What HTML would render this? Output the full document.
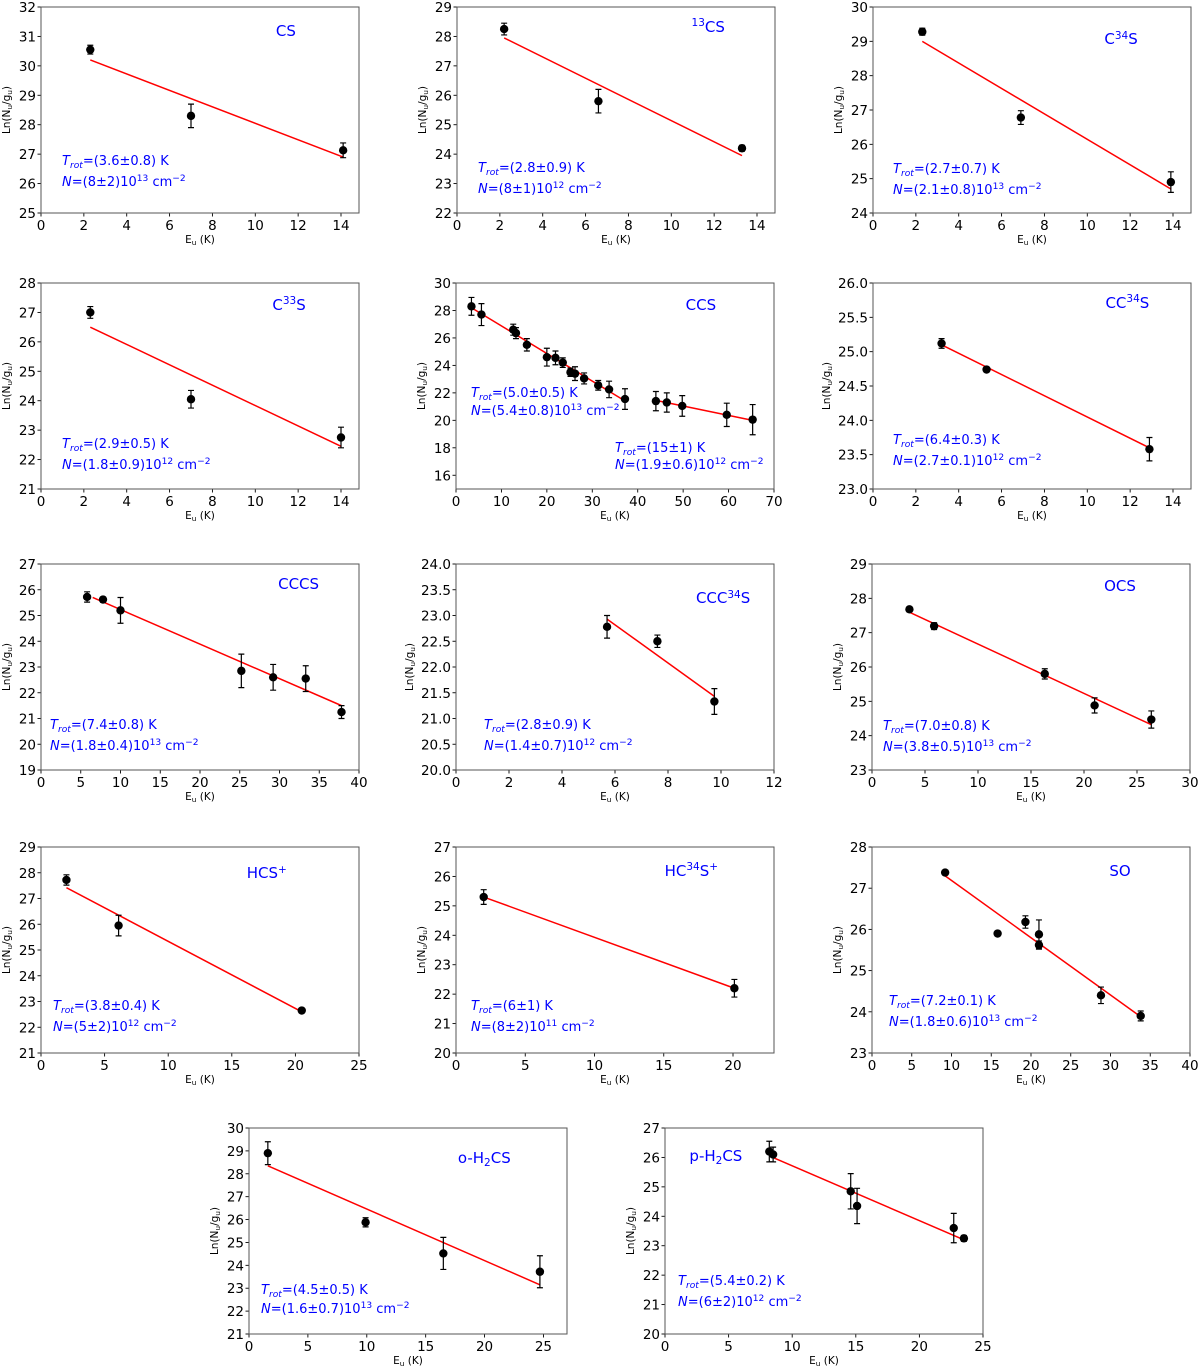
<!DOCTYPE html>
<html><head><meta charset="utf-8">
<style>
html,body{margin:0;padding:0;background:#fff;}
#root{position:relative;width:1200px;height:1372px;overflow:hidden;font-family:"DejaVu Sans","Liberation Sans",sans-serif;}
svg{position:absolute;left:0;top:0;}
.t{position:absolute;color:#0000ff;white-space:nowrap;font-size:15px;line-height:1;}
.a{position:absolute;color:#0000ff;white-space:nowrap;font-size:13px;line-height:1;}
.yl{position:absolute;font-size:10.5px;white-space:nowrap;transform:translate(-50%,-50%) rotate(-90deg);}
.xl{position:absolute;font-size:10.5px;white-space:nowrap;transform:translateX(-50%);}
sup{font-size:70%;vertical-align:0;position:relative;top:-0.5em;}
sub{font-size:70%;vertical-align:0;position:relative;top:0.3em;}
</style></head>
<body>
<div id="root">
<svg id="plot" width="1200" height="1372"></svg>
</div>
<script>
// ---- data arrays ----
const csE=[2.3,7.0,14.1], csLn=[30.55,28.3,27.13], csErr=[0.15,0.4,0.25], csFitE=[2.3,14.1], csFitLn=[30.2,26.9];
const c13E=[2.2,6.6,13.3], c13Ln=[28.25,25.8,24.2], c13Err=[0.2,0.4,0.1], c13FitE=[2.2,13.3], c13FitLn=[27.95,23.95];
const c34E=[2.3,6.9,13.9], c34Ln=[29.28,26.78,24.9], c34Err=[0.1,0.2,0.3], c34FitE=[2.3,13.9], c34FitLn=[29.0,24.7];
const c33E=[2.3,7.0,14.0], c33Ln=[27.0,24.05,22.75], c33Err=[0.2,0.3,0.35], c33FitE=[2.3,14.0], c33FitLn=[26.5,22.45];
const ccsE=[3.4,5.6,12.6,13.2,15.6,20.0,21.9,23.5,25.2,26.2,28.2,31.3,33.7,37.2,44.0,46.4,49.8,59.6,65.3];
const ccsLn=[28.3,27.7,26.6,26.35,25.5,24.6,24.55,24.2,23.5,23.4,23.05,22.55,22.25,21.55,21.4,21.3,21.05,20.4,20.05];
const ccsErr=[0.65,0.8,0.4,0.4,0.45,0.65,0.5,0.35,0.3,0.5,0.4,0.35,0.6,0.75,0.7,0.7,0.75,0.85,1.1];
const ccsFitE=[3.4,37.0], ccsFitLn=[28.2,21.45], ccsFit2E=[44.0,65.3], ccsFit2Ln=[21.45,20.0];
const cc34E=[3.2,5.3,12.9], cc34Ln=[25.12,24.74,23.58], cc34Err=[0.07,0.03,0.17], cc34FitE=[3.2,12.9], cc34FitLn=[25.1,23.6];
const cccsE=[5.8,7.8,10.0,25.2,29.2,33.3,37.8], cccsLn=[25.72,25.62,25.2,22.85,22.6,22.55,21.25], cccsErr=[0.2,0.1,0.5,0.65,0.5,0.5,0.25], cccsFitE=[6.5,37.8], cccsFitLn=[25.7,21.5];
const ccc34E=[5.7,7.6,9.75], ccc34Ln=[22.78,22.5,21.33], ccc34Err=[0.22,0.12,0.25], ccc34FitE=[5.7,9.75], ccc34FitLn=[22.93,21.43];
const ocsE=[3.53,5.86,16.3,21.0,26.35], ocsLn=[27.68,27.19,25.8,24.88,24.47], ocsErr=[0.07,0.1,0.15,0.22,0.25], ocsFitE=[3.5,26.35], ocsFitLn=[27.6,24.32];
const hcsE=[2.0,6.1,20.5], hcsLn=[27.72,25.95,22.65], hcsErr=[0.2,0.4,0.05], hcsFitE=[2.0,20.5], hcsFitLn=[27.42,22.6];
const hc34E=[2.0,20.1], hc34Ln=[25.3,22.2], hc34Err=[0.25,0.3], hc34FitE=[2.0,20.1], hc34FitLn=[25.3,22.2];
const soE=[9.2,15.8,19.3,21.0,21.0,28.8,33.8], soLn=[27.38,25.9,26.18,25.88,25.62,24.4,23.9], soErr=[0.03,0.0,0.15,0.35,0.1,0.2,0.12], soFitE=[9.2,33.8], soFitLn=[27.3,23.88];
const oh2E=[1.6,9.9,16.5,24.7], oh2Ln=[28.9,25.88,24.52,23.72], oh2Err=[0.5,0.2,0.7,0.7], oh2FitE=[1.6,24.7], oh2FitLn=[28.35,23.15];
const ph2E=[8.2,8.5,14.6,15.1,22.7,23.5], ph2Ln=[26.2,26.1,24.85,24.35,23.6,23.25], ph2Err=[0.35,0.25,0.6,0.6,0.5,0.1], ph2FitE=[8.2,23.5], ph2FitLn=[26.05,23.2];

// ---- tick arrays ----
const xt14=[0,2,4,6,8,10,12,14], xt70=[0,10,20,30,40,50,60,70], xt40=[0,5,10,15,20,25,30,35,40], xt12=[0,2,4,6,8,10,12], xt30=[0,5,10,15,20,25,30], xt25=[0,5,10,15,20,25], xt20=[0,5,10,15,20];

const panels=[
 {id:'cs',L:41,T:7,xr:[0,14.84],yr:[25,32],xt:xt14,yt:[25,26,27,28,29,30,31,32],d:[csE,csLn,csErr],f:[[csFitE,csFitLn]],
  title:'CS',tp:[0.77,0.12],ann:[[62,163,'(3.6±0.8)','(8±2)10<sup>13</sup>']]},
 {id:'13cs',L:457,T:7,xr:[0,14.84],yr:[22,29],xt:xt14,yt:[22,23,24,25,26,27,28,29],d:[c13E,c13Ln,c13Err],f:[[c13FitE,c13FitLn]],
  title:'<sup>13</sup>CS',tp:[0.79,0.1],ann:[[478,170,'(2.8±0.9)','(8±1)10<sup>12</sup>']]},
 {id:'c34s',L:873,T:7,xr:[0,14.84],yr:[24,30],xt:xt14,yt:[24,25,26,27,28,29,30],d:[c34E,c34Ln,c34Err],f:[[c34FitE,c34FitLn]],
  title:'C<sup>34</sup>S',tp:[0.78,0.16],ann:[[893,171,'(2.7±0.7)','(2.1±0.8)10<sup>13</sup>']]},
 {id:'c33s',L:41,T:283,xr:[0,14.84],yr:[21,28],xt:xt14,yt:[21,22,23,24,25,26,27,28],d:[c33E,c33Ln,c33Err],f:[[c33FitE,c33FitLn]],
  title:'C<sup>33</sup>S',tp:[0.78,0.11],ann:[[62,446,'(2.9±0.5)','(1.8±0.9)10<sup>12</sup>']]},
 {id:'ccs',L:456,T:283,xr:[0,70],yr:[15,30],xt:xt70,yt:[16,18,20,22,24,26,28,30],d:[ccsE,ccsLn,ccsErr],f:[[ccsFitE,ccsFitLn],[ccsFit2E,ccsFit2Ln]],
  title:'CCS',tp:[0.77,0.11],ann:[[471,395,'(5.0±0.5)','(5.4±0.8)10<sup>13</sup>',18],[615,450,'(15±1)','(1.9±0.6)10<sup>12</sup>',17]]},
 {id:'cc34s',L:873,T:283,xr:[0,14.84],yr:[23,26],xt:xt14,yt:[23,23.5,24,24.5,25,25.5,26],dec:1,d:[cc34E,cc34Ln,cc34Err],f:[[cc34FitE,cc34FitLn]],
  title:'CC<sup>34</sup>S',tp:[0.8,0.1],ann:[[893,442,'(6.4±0.3)','(2.7±0.1)10<sup>12</sup>']]},
 {id:'cccs',L:41,T:564,xr:[0,40],yr:[19,27],xt:xt40,yt:[19,20,21,22,23,24,25,26,27],d:[cccsE,cccsLn,cccsErr],f:[[cccsFitE,cccsFitLn]],
  title:'CCCS',tp:[0.81,0.1],ann:[[50,727,'(7.4±0.8)','(1.8±0.4)10<sup>13</sup>']]},
 {id:'ccc34s',L:456,T:564,xr:[0,12],yr:[20,24],xt:xt12,yt:[20,20.5,21,21.5,22,22.5,23,23.5,24],dec:1,d:[ccc34E,ccc34Ln,ccc34Err],f:[[ccc34FitE,ccc34FitLn]],
  title:'CCC<sup>34</sup>S',tp:[0.84,0.17],ann:[[484,727,'(2.8±0.9)','(1.4±0.7)10<sup>12</sup>']]},
 {id:'ocs',L:872,T:564,xr:[0,30],yr:[23,29],xt:xt30,yt:[23,24,25,26,27,28,29],d:[ocsE,ocsLn,ocsErr],f:[[ocsFitE,ocsFitLn]],
  title:'OCS',tp:[0.78,0.11],ann:[[883,728,'(7.0±0.8)','(3.8±0.5)10<sup>13</sup>']]},
 {id:'hcs',L:41,T:847,xr:[0,25],yr:[21,29],xt:xt25,yt:[21,22,23,24,25,26,27,28,29],d:[hcsE,hcsLn,hcsErr],f:[[hcsFitE,hcsFitLn]],
  title:'HCS<sup>+</sup>',tp:[0.71,0.13],ann:[[53,1008,'(3.8±0.4)','(5±2)10<sup>12</sup>']]},
 {id:'hc34s',L:456,T:847,xr:[0,22.96],yr:[20,27],xt:xt20,yt:[20,21,22,23,24,25,26,27],d:[hc34E,hc34Ln,hc34Err],f:[[hc34FitE,hc34FitLn]],
  title:'HC<sup>34</sup>S<sup>+</sup>',tp:[0.74,0.12],ann:[[471,1008,'(6±1)','(8±2)10<sup>11</sup>']]},
 {id:'so',L:872,T:847,xr:[0,40],yr:[23,28],xt:xt40,yt:[23,24,25,26,27,28],d:[soE,soLn,soErr],f:[[soFitE,soFitLn]],
  title:'SO',tp:[0.78,0.12],ann:[[889,1003,'(7.2±0.1)','(1.8±0.6)10<sup>13</sup>']]},
 {id:'oh2cs',L:249,T:1128,xr:[0,27],yr:[21,30],xt:xt25,yt:[21,22,23,24,25,26,27,28,29,30],d:[oh2E,oh2Ln,oh2Err],f:[[oh2FitE,oh2FitLn]],
  title:'o-H<sub>2</sub>CS',tp:[0.74,0.15],ann:[[261,1292,'(4.5±0.5)','(1.6±0.7)10<sup>13</sup>',19]]},
 {id:'ph2cs',L:665,T:1128,xr:[0,25],yr:[20,27],xt:xt25,yt:[20,21,22,23,24,25,26,27],d:[ph2E,ph2Ln,ph2Err],f:[[ph2FitE,ph2FitLn]],
  title:'p-H<sub>2</sub>CS',tp:[0.16,0.14],ann:[[678,1283,'(5.4±0.2)','(6±2)10<sup>12</sup>']]}
];
const W=318,H=206;
const NS='http://www.w3.org/2000/svg';
const svg=document.getElementById('plot');
const root=document.getElementById('root');
function mk(tag,attrs,parent){const e=document.createElementNS(NS,tag);for(const k in attrs)e.setAttribute(k,attrs[k]);(parent||svg).appendChild(e);return e;}
panels.forEach(p=>{
  const g=mk('g',{});
  
  
  const sx=v=>p.L+(v-p.xr[0])/(p.xr[1]-p.xr[0])*W;
  const sy=v=>p.T+H-(v-p.yr[0])/(p.yr[1]-p.yr[0])*H;
  p.xt.forEach(v=>{
    const x=sx(v);
    const tk=mk('line',{x1:x,x2:x,y1:p.T+H,y2:p.T+H+3.5,stroke:'#000','stroke-width':0.9},g);
    
    
    const tl=mk('text',{x:x,y:p.T+H+17,'text-anchor':'middle','font-size':13.5,'font-family':'DejaVu Sans, sans-serif',fill:'#000'},g);
    tl.textContent=String(v);
    
    
  });
  p.yt.forEach(v=>{
    const y=sy(v);
    const tk=mk('line',{x1:p.L-3.5,x2:p.L,y1:y,y2:y,stroke:'#000','stroke-width':0.9},g);
    
    
    const tl=mk('text',{x:p.L-5,y:y+5,'text-anchor':'end','font-size':13.5,'font-family':'DejaVu Sans, sans-serif',fill:'#000'},g);
    tl.textContent=p.dec?v.toFixed(1):String(v);
    
    
  });
  p.f.forEach(fl=>{
    const ln=mk('line',{x1:sx(fl[0][0]),y1:sy(fl[1][0]),x2:sx(fl[0][1]),y2:sy(fl[1][1]),stroke:'#ff0000','stroke-width':1.5},g);
    
    
  });
  const [E,Ln,Er]=p.d;
  E.forEach((e,i)=>{
    const x=sx(e),y=sy(Ln[i]),y1=sy(Ln[i]+Er[i]),y2=sy(Ln[i]-Er[i]);
    if(Er[i]>0){
      const eb=mk('path',{d:`M${x},${y1}V${y2}M${x-3},${y1}H${x+3}M${x-3},${y2}H${x+3}`,stroke:'#000','stroke-width':1.2,fill:'none'},g);
      
      
    }
    const c=mk('circle',{cx:x,cy:y,r:4.2,fill:'#000'},g);
    
    
  });
  const fr=mk('rect',{x:p.L,y:p.T,width:W,height:H,fill:'none',stroke:'#555','stroke-width':1},g);
  
  
  const t=document.createElement('div');
  t.className='t';
  t.innerHTML=p.title;
  t.style.left=(p.L+p.tp[0]*W)+'px';
  t.style.top=(p.T+p.tp[1]*H-8)+'px';
  t.style.transform='translateX(-50%)';
  
  
  root.appendChild(t);
  p.ann.forEach(a=>{
    const gap=a[4]||21;
    const d1=document.createElement('div');
    d1.className='a';
    d1.innerHTML='<i>T<sub>rot</sub></i>='+a[2]+' K';
    d1.style.left=a[0]+'px';d1.style.top=(a[1]-8)+'px';
    
    
    root.appendChild(d1);
    const d2=document.createElement('div');
    d2.className='a';
    d2.innerHTML='<i>N</i>='+a[3]+' cm<sup>−2</sup>';
    d2.style.left=a[0]+'px';d2.style.top=(a[1]-8+gap)+'px';
    
    
    root.appendChild(d2);
  });
  const yl=document.createElement('div');
  yl.className='yl';
  yl.innerHTML='Ln(N<sub>u</sub>/g<sub>u</sub>)';
  yl.style.left=(p.L-(p.dec?46:34))+'px';yl.style.top=(p.T+H/2)+'px';
  
  
  root.appendChild(yl);
  const xl=document.createElement('div');
  xl.className='xl';
  xl.innerHTML='E<sub>u</sub> (K)';
  xl.style.left=(p.L+W/2)+'px';xl.style.top=(p.T+H+21)+'px';
  
  
  root.appendChild(xl);
});
</script>
</body></html>
